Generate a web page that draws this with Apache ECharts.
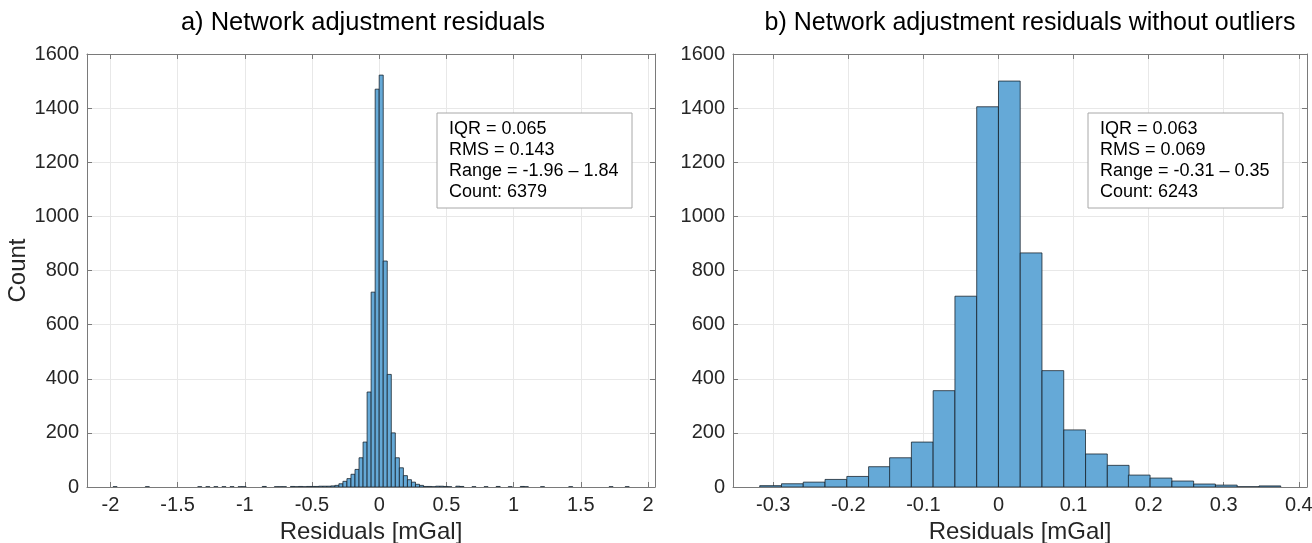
<!DOCTYPE html>
<html>
<head>
<meta charset="utf-8">
<script src="https://cdn.jsdelivr.net/npm/echarts@6/dist/echarts.min.js"></script>
<style>
  html, body { margin: 0; padding: 0; background: #fff; }
  #chart { width: 1312px; height: 543px; }
</style>
</head>
<body>
<div id="chart"></div>
<script>
// ---- data ----
// a) all residuals, bin width 0.03 mGal (left bin edges + counts)
const BIN_A = 0.03;
const histA_left = [
  -1.98, -1.74, -1.35, -1.29, -1.23, -1.17, -1.11, -1.05, -1.02, -0.87,
  -0.78, -0.75, -0.72, -0.66, -0.63, -0.60, -0.57, -0.54, -0.51, -0.48,
  -0.45, -0.42, -0.39,
  -0.36, -0.33, -0.30, -0.27, -0.24, -0.21, -0.18, -0.15, -0.12, -0.09,
  -0.06, -0.03, 0, 0.03, 0.06, 0.09, 0.12, 0.15, 0.18, 0.21,
  0.24, 0.27, 0.30, 0.33,
  0.36, 0.39, 0.42, 0.45, 0.48, 0.51, 0.57, 0.60, 0.69, 0.78,
  0.87, 0.96, 1.05, 1.08, 1.20, 1.41, 1.71, 1.83
];
const histA_counts = [
  1, 1, 1, 1, 1, 1, 1, 1, 1, 2,
  1, 1, 1, 2, 1, 2, 1, 2, 2, 2,
  3, 3, 3,
  4, 6, 12, 21, 31, 47, 65, 108, 166, 351,
  720, 1470, 1522, 835, 416, 200, 108, 71, 42, 27,
  18, 10, 6, 2,
  2, 1, 3, 3, 2, 1, 3, 2, 1, 1,
  2, 1, 2, 1, 1, 1, 1, 1
];

// b) residuals without outliers, bin width ~0.0289 mGal
const BIN_B = 0.0289;
const histB_left = [
  -0.318, -0.289, -0.260, -0.231, -0.202, -0.173, -0.145, -0.116, -0.087, -0.058,
  -0.029, 0, 0.029, 0.058, 0.087, 0.116, 0.145, 0.173, 0.202, 0.231,
  0.260, 0.289, 0.318, 0.347
];
const histB_counts = [
  5, 12, 18, 28, 39, 75, 108, 166, 356, 705,
  1405, 1500, 865, 430, 211, 122, 80, 44, 33, 22,
  11, 7, 1, 4
];

const ticksA = [-2, -1.5, -1, -0.5, 0, 0.5, 1, 1.5, 2];
const ticksB = [-0.3, -0.2, -0.1, 0, 0.1, 0.2, 0.3, 0.4];

const statsA = ['IQR = 0.065', 'RMS = 0.143', 'Range = -1.96 \u2013 1.84', 'Count: 6379'];
const statsB = ['IQR = 0.063', 'RMS = 0.069', 'Range = -0.31 \u2013 0.35', 'Count: 6243'];

const titleA = 'a) Network adjustment residuals';
const titleB = 'b) Network adjustment residuals without outliers';

// ---- chart ----
const FONT = '"Liberation Sans", Arial, Helvetica, sans-serif';
const TXT = '#262626';
const SPINE = '#7a7a7a';
const GRIDC = '#e8e8e8';

const myChart = echarts.init(document.getElementById('chart'), null, { renderer: 'canvas' });

function toRows(lefts, counts, w) {
  return lefts.map((x, i) => [x, x + w, counts[i]]);
}

function renderBin(params, api) {
  const p0 = api.coord([api.value(0), api.value(2)]);
  const p1 = api.coord([api.value(1), 0]);
  return {
    type: 'rect',
    shape: { x: p0[0], y: p0[1], width: p1[0] - p0[0], height: p1[1] - p0[1] },
    style: { fill: '#65a9d7', stroke: 'rgba(20,30,40,0.85)', lineWidth: 0.9 }
  };
}

const fmt = (v) => String(Math.round(v * 100) / 100);

function xAxes(grid, min, max, ticks) {
  return [
    {
      type: 'value', gridIndex: grid, min: min, max: max, position: 'bottom',
      axisLine: { show: true, onZero: false, lineStyle: { color: SPINE, width: 1 } },
      axisTick: { show: true, inside: true, length: 5, customValues: ticks, lineStyle: { color: SPINE } },
      axisLabel: { customValues: ticks, formatter: fmt, color: TXT, fontSize: 20, fontFamily: FONT, margin: 8 },
      splitLine: { show: true, lineStyle: { color: GRIDC, width: 1 } },
      name: 'Residuals [mGal]', nameLocation: 'middle', nameGap: 33,
      nameTextStyle: { color: TXT, fontSize: 24, fontFamily: FONT }
    },
    {
      type: 'value', gridIndex: grid, min: min, max: max, position: 'top',
      axisLine: { show: true, onZero: false, lineStyle: { color: SPINE, width: 1 } },
      axisTick: { show: true, inside: true, length: 5, customValues: ticks, lineStyle: { color: SPINE } },
      axisLabel: { show: false },
      splitLine: { show: false }
    }
  ];
}

function yAxes(grid, withName) {
  const main = {
    type: 'value', gridIndex: grid, min: 0, max: 1600, interval: 200, position: 'left',
    axisLine: { show: true, onZero: false, lineStyle: { color: SPINE, width: 1 } },
    axisTick: { show: true, inside: true, length: 5, lineStyle: { color: SPINE } },
    axisLabel: { formatter: (v) => String(v), color: TXT, fontSize: 20, fontFamily: FONT, margin: 8 },
    splitLine: { show: true, lineStyle: { color: GRIDC, width: 1 } }
  };
  if (withName) {
    main.name = 'Count';
    main.nameLocation = 'middle';
    main.nameGap = 53;
    main.nameTextStyle = { color: TXT, fontSize: 24, fontFamily: FONT };
  }
  return [
    main,
    {
      type: 'value', gridIndex: grid, min: 0, max: 1600, interval: 200, position: 'right',
      axisLine: { show: true, onZero: false, lineStyle: { color: SPINE, width: 1 } },
      axisTick: { show: true, inside: true, length: 5, lineStyle: { color: SPINE } },
      axisLabel: { show: false },
      splitLine: { show: false }
    }
  ];
}

function statBox(x, y, lines) {
  return {
    type: 'group', x: x, y: y,
    children: [
      { type: 'rect', z: 100, shape: { x: 0, y: 0, width: 195, height: 95 },
        style: { fill: '#fff', stroke: '#a8a8a8', lineWidth: 1 } },
      { type: 'text', z: 101, x: 12, y: 6,
        style: { text: lines.join('\n'), fill: '#000', font: '18px ' + FONT, lineHeight: 21,
                 textVerticalAlign: 'top' } }
    ]
  };
}

const option = {
  animation: false,
  backgroundColor: '#fff',
  grid: [
    { left: 87, top: 54, width: 568, height: 433, containLabel: false, outerBoundsMode: 'none' },
    { left: 733, top: 54, width: 574, height: 433, containLabel: false, outerBoundsMode: 'none' }
  ],
  xAxis: [...xAxes(0, -2.174, 2.052, ticksA), ...xAxes(1, -0.3536, 0.4109, ticksB)],
  yAxis: [...yAxes(0, true), ...yAxes(1, false)],
  series: [
    {
      type: 'custom', xAxisIndex: 0, yAxisIndex: 0, clip: true,
      renderItem: renderBin, encode: { x: [0, 1], y: 2 },
      data: toRows(histA_left, histA_counts, BIN_A)
    },
    {
      type: 'custom', xAxisIndex: 2, yAxisIndex: 2, clip: true,
      renderItem: renderBin, encode: { x: [0, 1], y: 2 },
      data: toRows(histB_left, histB_counts, BIN_B)
    }
  ],
  graphic: [
    { type: 'text', x: 363, y: 23, style: { text: titleA, font: '25.5px ' + FONT, fill: '#000',
      textAlign: 'center', textVerticalAlign: 'middle' } },
    { type: 'text', x: 1030, y: 23, style: { text: titleB, font: '25px ' + FONT, fill: '#000',
      textAlign: 'center', textVerticalAlign: 'middle' } },
    statBox(437, 113, statsA),
    statBox(1088, 113, statsB)
  ]
};

myChart.setOption(option);
</script>
</body>
</html>
